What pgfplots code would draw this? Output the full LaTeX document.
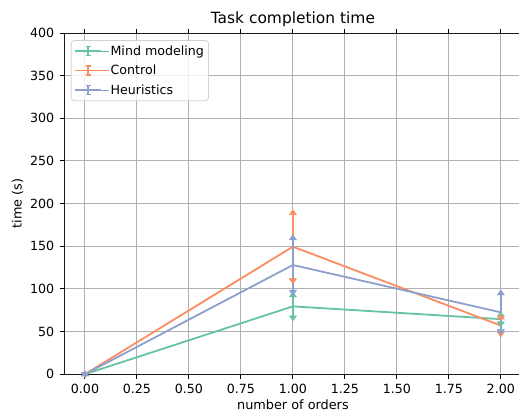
\documentclass[border=0pt]{standalone}
\usepackage{fontspec}
\setmainfont{DejaVu Sans}
\usepackage{pgfplots}
\usepackage{pgfplotstable}
\pgfplotsset{compat=1.18}
\definecolor{cA}{HTML}{66C2A5}
\definecolor{cB}{HTML}{FC8D62}
\definecolor{cC}{HTML}{8DA0CB}
\pgfplotstableread{
x y e
0 0 0
1 79.5 13
2 64.5 5
}\mindtab
\pgfplotstableread{
x y e
0 0 0
1 149.5 39.5
2 57 9.5
}\ctrltab
\pgfplotstableread{
x y e
0 0 0
1 128 31.5
2 72.5 22.3
}\heurtab
\pgfplotsset{
  errleg/.style={legend image code/.code={
    \path (0pt,0pt) -- (33.5pt,0pt);
    \draw[##1,line width=1.5pt] (0pt,0pt) -- (26pt,0pt);
    \draw[##1,line width=1.3pt] (13pt,-4.5pt) -- (13pt,4.5pt);
    \draw[##1,line width=1.3pt] (10.5pt,-4.5pt) -- (15.5pt,-4.5pt);
    \draw[##1,line width=1.3pt] (10.5pt,4.5pt) -- (15.5pt,4.5pt);
  }},
  ebars/.style={error bars/.cd, y dir=both, y explicit, error mark=none,
     error bar style={line width=1.8pt, #1}, /pgfplots/.cd},
  tri/.style={only marks, mark=triangle*, forget plot,
     mark options={fill=#1, draw=#1, line width=0.4pt, mark size=4.2pt, yscale=0.8}},
  trid/.style={only marks, mark=triangle*, forget plot,
     mark options={fill=#1, draw=#1, line width=0.4pt, mark size=4.2pt, yscale=0.8, rotate=180}},
}
\begin{document}
\begin{tikzpicture}
\begin{axis}[
  scale only axis, width=456pt, height=340pt,
  xmin=-0.1, xmax=2.1, ymin=0, ymax=400,
  xtick={0,0.25,0.5,0.75,1,1.25,1.5,1.75,2},
  ytick={0,50,100,150,200,250,300,350,400},
  /pgf/number format/assume math mode=true,
  xticklabel={\pgfmathprintnumber[fixed,fixed zerofill,precision=2]{\tick}},
  ticklabel style={font=\fontsize{12.6}{15}\selectfont},
  grid=major, major grid style={color=black!31, line width=1pt},
  tick align=outside, major tick length=4.5pt,
  tick style={black, line width=1pt},
  axis line style={black!90, line width=1pt},
  xticklabel shift=2pt, yticklabel shift=2pt,
  title={Task completion time},
  title style={font=\fontsize{15.4}{18}\selectfont, yshift=-3pt},
  xlabel={number of orders}, ylabel={time (s)},
  label style={font=\fontsize{12.8}{15}\selectfont},
  xlabel style={at={(axis description cs:0.5,-0.105)}, anchor=base},
  ylabel style={at={(axis description cs:-0.093,0.5)}, anchor=base, rotate=0},
  legend style={at={(0,1)}, anchor=north west, xshift=6.7pt, yshift=-7pt,
    draw=black!18, line width=0.8pt, rounded corners=3pt, fill=white, fill opacity=0.8, text opacity=1,
    font=\fontsize{12.6}{15}\selectfont, inner xsep=3pt, inner ysep=2.5pt,
    nodes={inner xsep=1.5pt, inner ysep=1.5pt, text height=10.5pt, text depth=2.5pt},
    row sep=3.5pt, cells={anchor=west}},
  legend cell align=left,
]
\addlegendimage{errleg, cA}
\addlegendentry{Mind modeling}
\addlegendimage{errleg, cB}
\addlegendentry{Control}
\addlegendimage{errleg, cC}
\addlegendentry{Heuristics}
% Mind modeling
\addplot[cA, line width=1.8pt, forget plot, ebars=cA] table[x=x, y=y, y error=e]{\mindtab};
\addplot[tri=cA] table[x=x, y expr=\thisrow{y}+\thisrow{e}]{\mindtab};
\addplot[trid=cA] table[x=x, y expr=\thisrow{y}-\thisrow{e}]{\mindtab};
% Control
\addplot[cB, line width=1.8pt, forget plot, ebars=cB] table[x=x, y=y, y error=e]{\ctrltab};
\addplot[tri=cB] table[x=x, y expr=\thisrow{y}+\thisrow{e}]{\ctrltab};
\addplot[trid=cB] table[x=x, y expr=\thisrow{y}-\thisrow{e}]{\ctrltab};
% Heuristics
\addplot[cC, line width=1.8pt, forget plot, ebars=cC] table[x=x, y=y, y error=e]{\heurtab};
\addplot[tri=cC] table[x=x, y expr=\thisrow{y}+\thisrow{e}]{\heurtab};
\addplot[trid=cC] table[x=x, y expr=\thisrow{y}-\thisrow{e}]{\heurtab};
\end{axis}
\pgfresetboundingbox
\path[use as bounding box] ([xshift=-64pt,yshift=-38pt]current axis.south west) rectangle ([xshift=-2.6pt,yshift=33pt]current axis.north east);
\end{tikzpicture}
\end{document}
